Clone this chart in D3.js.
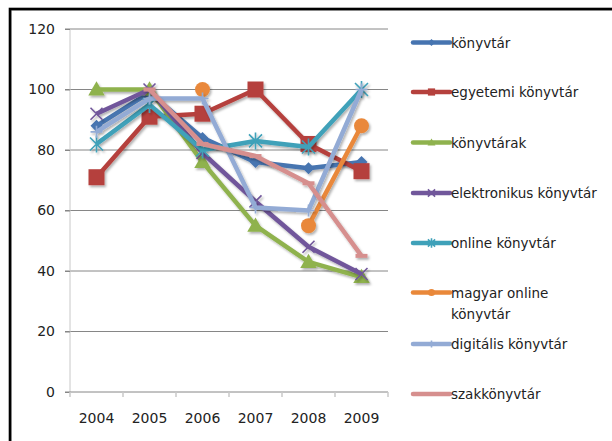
<!DOCTYPE html>
<html>
<head>
<meta charset="utf-8">
<script src="https://cdn.jsdelivr.net/npm/d3@7"></script>
<style>
  html, body { margin: 0; padding: 0; background: #fff; }
  svg { display: block; font-family: "DejaVu Sans", sans-serif; }
</style>
</head>
<body>
<svg id="chart" width="612" height="441"></svg>
<script>
// Years on the category axis
const years = ["2004", "2005", "2006", "2007", "2008", "2009"];
const yTicks = [0, 20, 40, 60, 80, 100, 120];

// One array per search term (null = no value that year)
const seriesNames = [
  "könyvtár", "egyetemi könyvtár", "könyvtárak", "elektronikus könyvtár",
  "online könyvtár", "magyar online könyvtár", "digitális könyvtár", "szakkönyvtár"
];
const konyvtar      = [88, 99, 84, 76, 74, 76];
const egyetemi      = [71, 91, 92, 100, 82, 73];
const konyvtarak    = [100, 100, 76, 55, 43, 38];
const elektronikus  = [92, 100, 79, 63, 48, 39];
const online        = [82, 95, 80, 83, 81, 100];
const magyarOnline  = [null, null, 100, null, 55, 88];
const digitalis     = [86, 97, 97, 61, 60, 100];
const szak          = [null, 100, 82, 78, 69, 45];

const seriesValues = [konyvtar, egyetemi, konyvtarak, elektronikus, online, magyarOnline, digitalis, szak];
const colors  = ["#4674B0", "#B5413D", "#8FB24E", "#71579B", "#3FA1B9", "#E9883A", "#93ABD5", "#D68F8E"];
const markers = ["diamond", "square", "triangle", "x", "star", "circle", "plus", "dash"];

const svg = d3.select("#chart");

// drop shadow used under the series lines
const defs = svg.append("defs");
const f = defs.append("filter").attr("id", "shadow")
  .attr("x", "-20%").attr("y", "-20%").attr("width", "140%").attr("height", "140%");
f.append("feDropShadow").attr("dx", 1.5).attr("dy", 2).attr("stdDeviation", 1.3)
  .attr("flood-color", "#000").attr("flood-opacity", 0.3);

// outer chart frame
svg.append("rect").attr("x", 11).attr("y", 10).attr("width", 700).attr("height", 500)
  .attr("fill", "none").attr("stroke", "#999").attr("stroke-width", 1.2);
svg.append("rect").attr("x", 10).attr("y", 9).attr("width", 700).attr("height", 500)
  .attr("fill", "none").attr("stroke", "#000").attr("stroke-width", 2.6);

const plot = { left: 70, right: 388, top: 29, bottom: 392 };

const x = d3.scalePoint().domain(years).range([plot.left, plot.right]).padding(0.5);
const band = d3.scaleBand().domain(years).range([plot.left, plot.right]);
const y = d3.scaleLinear().domain([0, 120]).range([plot.bottom, plot.top]);

// horizontal gridlines
svg.append("g").selectAll("line").data(yTicks.filter(d => d > 0)).join("line")
  .attr("x1", plot.left - 5).attr("x2", plot.right)
  .attr("y1", d => y(d)).attr("y2", d => y(d))
  .attr("stroke", "#868686").attr("stroke-width", 1);

// value axis
const yAxis = svg.append("g").attr("transform", `translate(${plot.left},0)`)
  .call(d3.axisLeft(y).tickValues(yTicks).tickSize(5).tickPadding(10));
yAxis.select(".domain").attr("stroke", "#c8c8c8").attr("d", `M0,${plot.top}V${plot.bottom}`);
yAxis.selectAll(".tick line").attr("stroke", "#868686");
yAxis.selectAll(".tick text").attr("font-size", 14).attr("fill", "#222")
  .attr("font-family", "DejaVu Sans, sans-serif");

// category axis: ticks sit between the categories
const xAxis = svg.append("g").attr("transform", `translate(0,${plot.bottom})`);
xAxis.append("line").attr("x1", plot.left - 5).attr("x2", plot.right)
  .attr("stroke", "#868686");
const bounds = years.map(d => band(d)).concat([band(years[years.length - 1]) + band.bandwidth()]);
xAxis.selectAll(".tk").data(bounds).join("line").attr("class", "tk")
  .attr("x1", d => d).attr("x2", d => d).attr("y1", 0).attr("y2", 5)
  .attr("stroke", "#c8c8c8").attr("stroke-width", 1.5);
xAxis.selectAll("text").data(years).join("text")
  .attr("x", d => x(d)).attr("y", 31).attr("text-anchor", "middle")
  .attr("font-size", 14).attr("fill", "#222").text(d => d);

// marker shapes
function drawMarker(g, type, color, s) {
  const sw = 1.6;
  switch (type) {
    case "diamond":
      g.append("path").attr("d", `M0,${-s}L${s},0L0,${s}L${-s},0Z`).attr("fill", color);
      break;
    case "square":
      g.append("rect").attr("x", -s).attr("y", -s).attr("width", 2 * s).attr("height", 2 * s).attr("fill", color);
      break;
    case "triangle":
      g.append("path").attr("d", `M0,${-s * 1.1}L${s * 1.1},${s * 0.8}L${-s * 1.1},${s * 0.8}Z`).attr("fill", color);
      break;
    case "circle":
      g.append("circle").attr("r", s).attr("fill", color);
      break;
    case "x":
      g.append("path").attr("d", `M${-s},${-s}L${s},${s}M${-s},${s}L${s},${-s}`)
        .attr("stroke", color).attr("stroke-width", sw).attr("fill", "none");
      break;
    case "star":
      g.append("path").attr("d", `M${-s},${-s}L${s},${s}M${-s},${s}L${s},${-s}M0,${-s * 1.3}V${s * 1.3}`)
        .attr("stroke", color).attr("stroke-width", sw).attr("fill", "none");
      break;
    case "plus":
      g.append("path").attr("d", `M0,${-s}V${s}M${-s},0H${s}`)
        .attr("stroke", color).attr("stroke-width", sw).attr("fill", "none");
      break;
    case "dash":
      g.append("path").attr("d", `M${-s},0H${s}`)
        .attr("stroke", color).attr("stroke-width", 4).attr("fill", "none");
      break;
  }
}
const markerSize = { diamond: 6, square: 8, triangle: 7.5, circle: 7.5, x: 6, star: 6.5, plus: 6, dash: 6 };

const line = d3.line()
  .defined(d => d.v !== null)
  .x(d => x(d.year))
  .y(d => y(d.v));

seriesValues.forEach((vals, i) => {
  const pts = years.map((year, k) => ({ year, v: vals[k] }));
  const g = svg.append("g").attr("filter", "url(#shadow)");
  g.append("path").datum(pts).attr("d", line)
    .attr("fill", "none").attr("stroke", colors[i]).attr("stroke-width", 4.5)
    .attr("stroke-linejoin", "round");
  pts.filter(p => p.v !== null).forEach(p => {
    const m = g.append("g").attr("transform", `translate(${x(p.year)},${y(p.v)})`);
    drawMarker(m, markers[i], colors[i], markerSize[markers[i]]);
  });
});

// legend
const legendY = [42.5, 92, 142.5, 193, 243, 292.5, 344, 394];
const legend = svg.append("g");
seriesNames.forEach((name, i) => {
  const g = legend.append("g").attr("transform", `translate(0,${legendY[i]})`);
  g.append("line").attr("x1", 413).attr("x2", 450).attr("stroke", colors[i])
    .attr("stroke-width", 4.5).attr("stroke-linecap", "round");
  const m = g.append("g").attr("transform", "translate(431.5,0)");
  drawMarker(m, markers[i], colors[i], markers[i] === "dash" ? 0 : 3.6);
  const t = g.append("text").attr("x", 451).attr("font-size", 13.5).attr("fill", "#222")
    .attr("dominant-baseline", "central");
  if (name === "magyar online könyvtár") {
    t.append("tspan").attr("x", 451).attr("dy", 0).text("magyar online");
    t.append("tspan").attr("x", 451).attr("dy", 21.5).text("könyvtár");
  } else {
    t.text(name);
  }
});
</script>
</body>
</html>
